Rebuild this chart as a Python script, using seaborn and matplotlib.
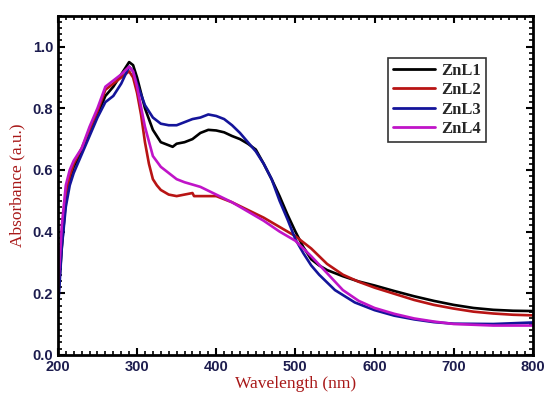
import numpy as np
import pandas as pd
import matplotlib
matplotlib.use("Agg")
import matplotlib.pyplot as plt
import seaborn as sns
from matplotlib.ticker import MultipleLocator

# datos
wl_1 = [200, 205, 210, 215, 220, 230, 240, 250, 260, 270, 280, 290, 295, 300, 310, 320, 330, 340, 345,
        350, 360, 370, 380, 390, 400, 410, 420, 430, 440, 450, 460, 470, 480, 490, 500, 510, 520, 530,
        540, 560, 580, 600, 625, 650, 675, 700, 725, 750, 775, 800]
znl1 = [0.17, 0.35, 0.50, 0.57, 0.61, 0.66, 0.72, 0.78, 0.84, 0.87, 0.91, 0.95, 0.94, 0.90, 0.80, 0.73, 0.69, 0.68, 0.675,
        0.685, 0.69, 0.70, 0.72, 0.73, 0.728, 0.722, 0.71, 0.70, 0.685, 0.666, 0.62, 0.57, 0.515, 0.455, 0.40, 0.35, 0.31, 0.29,
        0.275, 0.255, 0.238, 0.225, 0.207, 0.19, 0.175, 0.162, 0.152, 0.146, 0.143, 0.142]

wl_2 = [200, 205, 210, 215, 220, 230, 240, 250, 260, 270, 280, 290, 295, 300, 305, 310, 315, 320, 325, 330,
        340, 350, 360, 370, 372, 380, 390, 400, 420, 440, 460, 480, 500, 520, 540, 560, 580, 600, 625,
        650, 675, 700, 725, 750, 775, 800]
znl2 = [0.20, 0.40, 0.52, 0.58, 0.62, 0.67, 0.73, 0.79, 0.86, 0.88, 0.90, 0.92, 0.90, 0.85, 0.78, 0.69, 0.62, 0.57, 0.55, 0.535,
        0.52, 0.515, 0.52, 0.525, 0.515, 0.515, 0.515, 0.515, 0.495, 0.47, 0.445, 0.415, 0.385, 0.345, 0.295, 0.26, 0.237, 0.218, 0.198,
        0.178, 0.162, 0.15, 0.14, 0.134, 0.13, 0.128]

wl_3 = [200, 205, 210, 215, 220, 230, 240, 250, 260, 270, 280, 290, 295, 300, 310, 320, 330, 340, 350,
        360, 370, 380, 390, 400, 410, 420, 430, 440, 450, 460, 470, 480, 490, 500, 510, 520, 530, 540,
        550, 575, 600, 625, 650, 675, 700, 750, 800]
znl3 = [0.14, 0.35, 0.48, 0.55, 0.59, 0.65, 0.71, 0.77, 0.82, 0.84, 0.88, 0.935, 0.92, 0.88, 0.81, 0.77, 0.75, 0.745, 0.745,
        0.755, 0.765, 0.77, 0.78, 0.775, 0.765, 0.745, 0.72, 0.69, 0.66, 0.62, 0.57, 0.50, 0.44, 0.375, 0.33, 0.29, 0.26, 0.235,
        0.21, 0.17, 0.145, 0.127, 0.115, 0.106, 0.101, 0.10, 0.105]

wl_4 = [200, 205, 210, 215, 220, 230, 240, 250, 260, 270, 280, 290, 295, 300, 310, 320, 330, 340, 350,
        360, 380, 400, 420, 440, 460, 480, 500, 520, 540, 560, 580, 600, 625, 650, 675, 700, 750, 800]
znl4 = [0.20, 0.42, 0.55, 0.60, 0.63, 0.67, 0.74, 0.80, 0.87, 0.89, 0.91, 0.935, 0.92, 0.87, 0.74, 0.645, 0.61, 0.59, 0.57,
        0.56, 0.545, 0.52, 0.495, 0.465, 0.435, 0.40, 0.37, 0.32, 0.265, 0.21, 0.175, 0.152, 0.133, 0.118, 0.108, 0.10, 0.095, 0.095]

series = [("ZnL1", wl_1, znl1, "#000000"),
          ("ZnL2", wl_2, znl2, "#b81414"),
          ("ZnL3", wl_3, znl3, "#14149a"),
          ("ZnL4", wl_4, znl4, "#c014c8")]

sns.set_style("ticks")
plt.rcParams["font.family"] = ["Liberation Sans", "DejaVu Sans"]

fig = plt.figure(figsize=(5.46, 3.96), dpi=100)
ax = fig.add_axes([0.106, 0.104, 0.87, 0.856])

for nombre, x, y, color in series:
    df = pd.DataFrame({"wl": x, "abs": y})
    sns.lineplot(data=df, x="wl", y="abs", ax=ax, color=color, lw=1.9, label=nombre)

ax.set_xlim(200, 800)
ax.set_ylim(0, 1.1)
ax.xaxis.set_major_locator(MultipleLocator(100))
ax.xaxis.set_minor_locator(MultipleLocator(10))
ax.yaxis.set_major_locator(MultipleLocator(0.2))
ax.yaxis.set_minor_locator(MultipleLocator(0.02))
ax.yaxis.set_major_formatter(lambda v, p: f"{v:.1f}")
ax.tick_params(which="both", direction="in", top=True, right=True, color="black")
ax.tick_params(which="major", length=5, width=1.5)
ax.tick_params(which="minor", length=3, width=1.2)
for s in ax.spines.values():
    s.set_linewidth(2)
    s.set_color("black")

for lab in ax.get_xticklabels() + ax.get_yticklabels():
    lab.set_fontweight("bold")
    lab.set_fontsize(10.5)
    lab.set_color("#1c1c4e")

ax.set_xlabel("Wavelength (nm)", family="Liberation Serif", fontsize=12.5, color="#a81818", labelpad=2)
ax.set_ylabel("Absorbance (a.u.)", family="Liberation Serif", fontsize=12.5, color="#a81818", labelpad=5)

leg = ax.legend(loc="upper left", bbox_to_anchor=(0.695, 0.876), borderaxespad=0, frameon=True, fancybox=False,
                prop={"family": "Liberation Serif", "weight": "bold", "size": 12},
                handlelength=2.5, borderpad=0.3, labelspacing=0.2, handletextpad=0.4)
leg.get_frame().set_edgecolor("black")
leg.get_frame().set_linewidth(1.2)
for l in leg.get_lines():
    l.set_linewidth(2)

plt.savefig("out.png", dpi=100)
plt.close()
